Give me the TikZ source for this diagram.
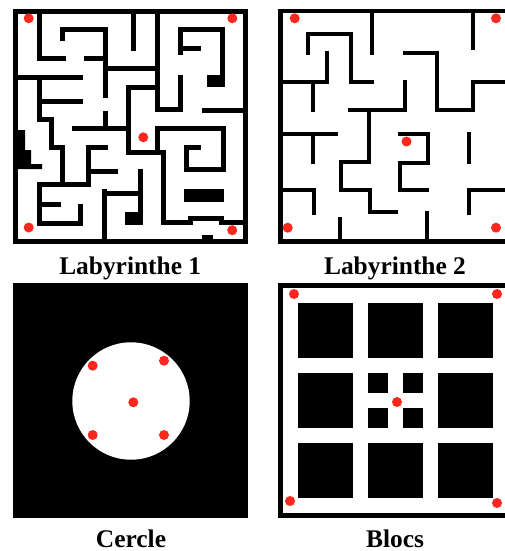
\documentclass[tikz,border=0pt]{standalone}
\usepackage{fontspec}
\setmainfont{Liberation Serif}
\definecolor{dotred}{RGB}{250,40,30}
\begin{document}
\begin{tikzpicture}[x=1pt,y=-1pt,
  wall/.style={line width=5pt, line cap=butt, line join=miter},
  thinwall/.style={line width=4pt, line cap=butt, line join=miter},
  reddot/.style={fill=dotred},
  lbl/.style={font=\bfseries\fontsize{25.4}{30}\selectfont, anchor=base, inner sep=0pt}]
\useasboundingbox (0,0) rectangle (505,551);
\fill[white] (0,0) rectangle (505,551);

% ---------- Labyrinthe 1 ----------
\draw[line width=5.5pt] (15.5,11.7) rectangle (245.3,241.7);
\draw[wall] (39,12)--(39,59)--(66,59);
\draw[wall] (62,41)--(62,29.5)--(105,29.5)--(105,98);
\draw[wall] (84,59)--(105,59);
\draw[wall] (105,68)--(157.7,68);
\draw[wall] (133,12)--(133,51.5);
\draw[wall] (157.7,12)--(157.7,109)--(180,109)--(180,75);
\draw[wall] (180.5,55)--(180.5,30)--(222,30)--(222,86);
\draw[wall] (180.5,49)--(201,49);
\fill (207,75) rectangle (224.5,87);
\draw[wall] (202,110.5)--(245,110.5);
\draw[wall] (16,77)--(83,77);
\draw[wall] (39.7,77)--(39.7,119)--(51.5,119)--(51.5,147.5)--(62,147.5)--(62,184);
\draw[wall] (39.7,101)--(83,101);
\draw[wall] (105,111)--(105,128);
\draw[wall] (72,128)--(128.5,128);
\draw[wall] (157.7,87.5)--(128.5,87.5)--(128.5,152)--(163,152)--(163,222.5)--(190,222.5)--(190,218.5)--(221,218.5)--(221,222.5)--(245,222.5);
\draw[wall] (157,152)--(157,128)--(223,128)--(223,169)--(186.5,169)--(186.5,147.5)--(201,147.5);
\fill (184,188.5) rectangle (224,201.5);
\fill (202,235) rectangle (213,241);
\fill (16,130) -- (25,130) -- (25,150) -- (31,150) -- (31,164) -- (42,164) -- (42,169) -- (16,169) -- cycle;
\draw[wall] (80.5,204)--(80.5,223)--(39,223)--(39,184)--(91,184);
\draw[wall] (108,147.3)--(88.8,147.3)--(88.8,186.5);
\draw[wall] (88.8,171.7)--(118,171.7);
\draw[wall] (39,204)--(61,204);
\draw[wall] (104.7,188.7)--(104.7,240);
\draw[wall] (104.7,193.5)--(140,193.5);
\draw[wall] (140,168.7)--(140,224);
\fill (125,212) rectangle (142.5,225);
\foreach \p in {(28.7,18.3),(232.3,18.3),(143.3,137.3),(28.7,227.5),(232.2,230.2)}
  \fill[reddot] \p circle (5);

% ---------- Labyrinthe 2 ----------
\draw[line width=4.5pt] (280.5,243.7)--(280.5,11.2)--(505,11.2);
\draw[line width=4.5pt] (278.2,241.5)--(505,241.5);
\draw[thinwall] (307.5,55)--(307.5,34)--(350.5,34)--(350.5,81.5)--(374,81.5);
\draw[thinwall] (372,11)--(372,55);
\draw[thinwall] (280,81.5)--(326.5,81.5)--(326.5,51.5);
\draw[thinwall] (312.7,81.5)--(312.7,111.5);
\draw[thinwall] (347.5,109.5)--(405,109.5)--(405,80);
\draw[thinwall] (369,109.5)--(369,162)--(340.5,162)--(340.5,190.3)--(369.5,190.3)--(369.5,212.3)--(397.5,212.3);
\draw[thinwall] (473.3,11)--(473.3,50);
\draw[thinwall] (403,53.3)--(437,53.3)--(437,109.5)--(473.3,109.5)--(473.3,81.5)--(505,81.5);
\draw[thinwall] (280,133.5)--(337.7,133.5);
\draw[thinwall] (312.7,133.5)--(312.7,163.7);
\draw[thinwall] (280,190.3)--(313.5,190.3)--(313.5,215.3);
\draw[thinwall] (340.3,217)--(340.3,241);
\draw[thinwall] (398.3,133.5)--(428,133.5)--(428,162.5)--(400,162.5)--(400,190.3)--(429,190.3);
\draw[thinwall] (468.5,132)--(468.5,163.7);
\draw[thinwall] (468.5,215.3)--(468.5,190.3)--(505,190.3);
\draw[thinwall] (426.7,211.3)--(426.7,241);
\foreach \p in {(294.7,18.3),(496,18.3),(406.5,141.5),(287.7,227.7),(496,227.7)}
  \fill[reddot] \p circle (5);

% ---------- Cercle ----------
\fill (12.7,282.7) rectangle (248.3,517.7);
\fill[white] (131,401) circle (58.7);
\foreach \p in {(92.7,365.7),(164,360.7),(133.3,402.3),(92.7,435),(164,435)}
  \fill[reddot] \p circle (5);

% ---------- Blocs ----------
\fill (278,283) rectangle (505,518);
\fill[white] (283,288) rectangle (505,513);
\foreach \x in {298,368,438}
  \foreach \y in {303,443}
    \fill (\x,\y) rectangle ++(55,55);
\fill (298,373) rectangle ++(55,55);
\fill (438,373) rectangle ++(55,55);
\fill (368,373) rectangle (388,393);
\fill (403,373) rectangle (423,393);
\fill (368,408) rectangle (388,428);
\fill (403,408) rectangle (423,428);
\foreach \p in {(294,294),(497,294),(290,501),(497,503),(397,402)}
  \fill[reddot] \p circle (5);

% ---------- Labels ----------
\node[lbl] (l1) at (130.2,274.3) {Labyrinthe 1};
\node[lbl] (l2) at (395,274.3) {Labyrinthe 2};
\node[lbl] (l3) at (131,547.3) {Cercle};
\node[lbl] (l4) at (395,547.3) {Blocs};
\end{tikzpicture}
\end{document}
